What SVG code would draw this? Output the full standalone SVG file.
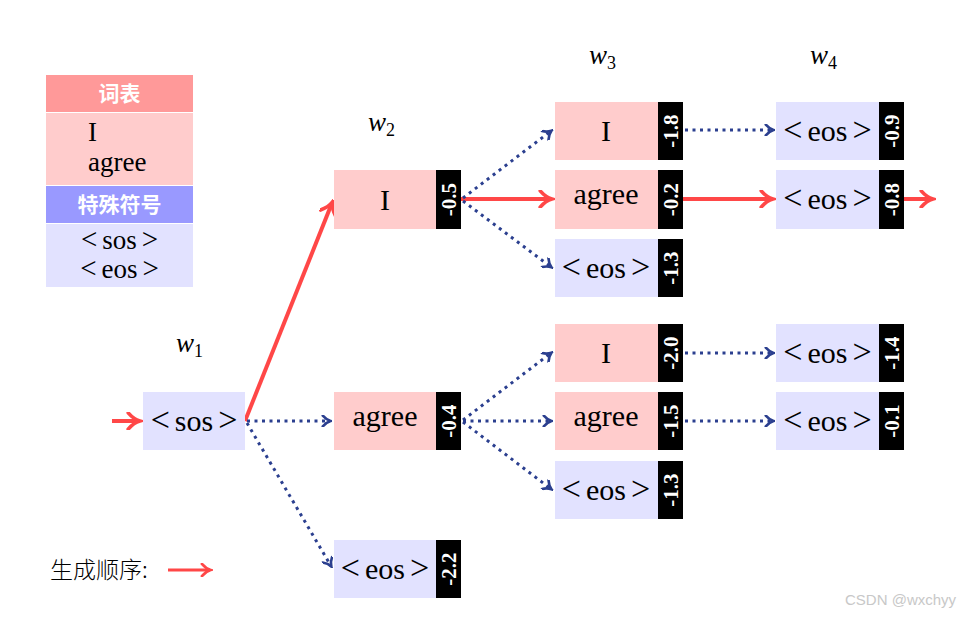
<svg xmlns="http://www.w3.org/2000/svg" width="975" height="617" viewBox="0 0 975 617">
<style>
.t{font-family:"Liberation Serif","Noto Sans CJK SC",serif;font-size:30px;fill:#000;text-anchor:middle}
.lg{font-family:"Liberation Serif","Noto Sans CJK SC",serif;font-size:27px;fill:#000}
.ab{font-size:34px}
.ab2{font-size:29px}
.hd{font-family:"Noto Sans CJK SC",sans-serif;font-size:21px;font-weight:bold;fill:#fff;text-anchor:middle}
.sc{font-family:"Liberation Serif",serif;font-size:21px;font-weight:bold;fill:#fff;text-anchor:middle}
.w{font-family:"Liberation Serif",serif;font-style:italic;font-size:27px;fill:#000}
.ws{font-family:"Liberation Serif",serif;font-size:18px;fill:#000}
.pk{fill:#ffcccc}
.bl{fill:#e2e2ff}
.bk{fill:#000}
.red{stroke:#ff4747;stroke-width:4;fill:none;marker-end:url(#ar)}
.dot{stroke:#2b3f8f;stroke-width:3;stroke-dasharray:3,4.5;fill:none;marker-end:url(#ab)}
</style>
<defs>
<marker id="ar" viewBox="0 0 10 10" refX="8" refY="5" markerWidth="4.5" markerHeight="4.5" orient="auto" markerUnits="strokeWidth">
<path d="M2,0.5 Q5,4 8.5,5 Q5,6 2,9.5" fill="none" stroke="#ff4747" stroke-width="2" stroke-linecap="round"/>
</marker>
<marker id="ab" viewBox="0 0 10 10" refX="8" refY="5" markerWidth="4" markerHeight="4" orient="auto" markerUnits="strokeWidth">
<path d="M2,0.5 Q5,4 8.5,5 Q5,6 2,9.5" fill="none" stroke="#2b3f8f" stroke-width="2.2" stroke-linecap="round"/>
</marker>
</defs>
<rect width="975" height="617" fill="#fff"/>

<g id="legend">
<rect x="46" y="75" width="147" height="37" fill="#ff9999"/>
<text class="hd" x="119.5" y="101">词表</text>
<rect x="46" y="113" width="147" height="72" class="pk"/>
<text class="lg" x="88" y="141">I</text>
<text class="lg" x="88" y="171">agree</text>
<rect x="46" y="186" width="147" height="37" fill="#9999ff"/>
<text class="hd" x="119.5" y="212">特殊符号</text>
<rect x="46" y="224" width="147" height="63" class="bl"/>
<text class="lg" x="119.5" y="249" text-anchor="middle"><tspan class="ab2">&lt;</tspan><tspan dx="5">sos</tspan><tspan class="ab2" dx="5">&gt;</tspan></text>
<text class="lg" x="119.5" y="278" text-anchor="middle"><tspan class="ab2">&lt;</tspan><tspan dx="5">eos</tspan><tspan class="ab2" dx="5">&gt;</tspan></text>
</g>

<g id="labels">
<text x="176" y="352"><tspan class="w">w</tspan><tspan class="ws" dy="5">1</tspan></text>
<text x="368" y="131"><tspan class="w">w</tspan><tspan class="ws" dy="5">2</tspan></text>
<text x="589" y="64"><tspan class="w">w</tspan><tspan class="ws" dy="5">3</tspan></text>
<text x="810" y="64"><tspan class="w">w</tspan><tspan class="ws" dy="5">4</tspan></text>
</g>

<g id="connectors">
<line class="red" x1="112" y1="421" x2="139" y2="421"/>
<line class="red" x1="245" y1="421" x2="332" y2="203"/>
<line class="red" x1="461" y1="199" x2="551" y2="199"/>
<line class="red" x1="683" y1="199" x2="772" y2="199"/>
<line class="red" x1="904" y1="199" x2="932" y2="199"/>
<line class="dot" x1="247" y1="421" x2="330" y2="421"/>
<line class="dot" x1="247" y1="423" x2="331" y2="566"/>
<line class="dot" x1="463" y1="198" x2="551" y2="131"/>
<line class="dot" x1="463" y1="201" x2="551" y2="267"/>
<line class="dot" x1="463" y1="420" x2="551" y2="353"/>
<line class="dot" x1="463" y1="421" x2="551" y2="421"/>
<line class="dot" x1="463" y1="422" x2="551" y2="489"/>
<line class="dot" x1="685" y1="130" x2="773" y2="130"/>
<line class="dot" x1="685" y1="353" x2="773" y2="353"/>
<line class="dot" x1="685" y1="421" x2="773" y2="421"/>
</g>

<g id="n_sos"><rect x="143" y="392" width="102" height="58" class="bl"/><text class="t" x="194" y="431"><tspan class="ab">&lt;</tspan><tspan dx="5">sos</tspan><tspan class="ab" dx="5">&gt;</tspan></text></g>

<g id="n2_I"><rect x="334" y="170" width="102" height="59" class="pk"/><text class="t" x="385" y="210">I</text>
<rect x="436" y="170" width="25" height="59" class="bk"/><text class="sc" transform="translate(456,199.5) rotate(-90)">-0.5</text></g>
<g id="n2_agree"><rect x="334" y="392" width="102" height="58" class="pk"/><text class="t" x="385" y="426">agree</text>
<rect x="436" y="392" width="25" height="58" class="bk"/><text class="sc" transform="translate(456,421) rotate(-90)">-0.4</text></g>
<g id="n2_eos"><rect x="334" y="540" width="102" height="58" class="bl"/><text class="t" x="385" y="579"><tspan class="ab">&lt;</tspan><tspan dx="5">eos</tspan><tspan class="ab" dx="5">&gt;</tspan></text>
<rect x="436" y="540" width="25" height="58" class="bk"/><text class="sc" transform="translate(456,569) rotate(-90)">-2.2</text></g>

<g id="n3_I_a"><rect x="555" y="102" width="103" height="58" class="pk"/><text class="t" x="606" y="141">I</text>
<rect x="658" y="102" width="25" height="58" class="bk"/><text class="sc" transform="translate(678,131) rotate(-90)">-1.8</text></g>
<g id="n3_agree_a"><rect x="555" y="170" width="103" height="59" class="pk"/><text class="t" x="606" y="204">agree</text>
<rect x="658" y="170" width="25" height="59" class="bk"/><text class="sc" transform="translate(678,199.5) rotate(-90)">-0.2</text></g>
<g id="n3_eos_a"><rect x="555" y="239" width="103" height="58" class="bl"/><text class="t" x="606" y="278"><tspan class="ab">&lt;</tspan><tspan dx="5">eos</tspan><tspan class="ab" dx="5">&gt;</tspan></text>
<rect x="658" y="239" width="25" height="58" class="bk"/><text class="sc" transform="translate(678,268) rotate(-90)">-1.3</text></g>
<g id="n3_I_b"><rect x="555" y="324" width="103" height="58" class="pk"/><text class="t" x="606" y="363">I</text>
<rect x="658" y="324" width="25" height="58" class="bk"/><text class="sc" transform="translate(678,353) rotate(-90)">-2.0</text></g>
<g id="n3_agree_b"><rect x="555" y="392" width="103" height="58" class="pk"/><text class="t" x="606" y="426">agree</text>
<rect x="658" y="392" width="25" height="58" class="bk"/><text class="sc" transform="translate(678,421) rotate(-90)">-1.5</text></g>
<g id="n3_eos_b"><rect x="555" y="461" width="103" height="58" class="bl"/><text class="t" x="606" y="500"><tspan class="ab">&lt;</tspan><tspan dx="5">eos</tspan><tspan class="ab" dx="5">&gt;</tspan></text>
<rect x="658" y="461" width="25" height="58" class="bk"/><text class="sc" transform="translate(678,490) rotate(-90)">-1.3</text></g>

<g id="n4_a"><rect x="776" y="102" width="103" height="58" class="bl"/><text class="t" x="827.5" y="141"><tspan class="ab">&lt;</tspan><tspan dx="5">eos</tspan><tspan class="ab" dx="5">&gt;</tspan></text>
<rect x="879" y="102" width="25" height="58" class="bk"/><text class="sc" transform="translate(899,131) rotate(-90)">-0.9</text></g>
<g id="n4_b"><rect x="776" y="170" width="103" height="59" class="bl"/><text class="t" x="827.5" y="209"><tspan class="ab">&lt;</tspan><tspan dx="5">eos</tspan><tspan class="ab" dx="5">&gt;</tspan></text>
<rect x="879" y="170" width="25" height="59" class="bk"/><text class="sc" transform="translate(899,199.5) rotate(-90)">-0.8</text></g>
<g id="n4_c"><rect x="776" y="324" width="103" height="58" class="bl"/><text class="t" x="827.5" y="363"><tspan class="ab">&lt;</tspan><tspan dx="5">eos</tspan><tspan class="ab" dx="5">&gt;</tspan></text>
<rect x="879" y="324" width="25" height="58" class="bk"/><text class="sc" transform="translate(899,353) rotate(-90)">-1.4</text></g>
<g id="n4_d"><rect x="776" y="392" width="103" height="58" class="bl"/><text class="t" x="827.5" y="431"><tspan class="ab">&lt;</tspan><tspan dx="5">eos</tspan><tspan class="ab" dx="5">&gt;</tspan></text>
<rect x="879" y="392" width="25" height="58" class="bk"/><text class="sc" transform="translate(899,421) rotate(-90)">-0.1</text></g>

<g id="order">
<text x="50" y="578" style="font-family:'Noto Sans CJK SC',serif;font-size:23px;font-weight:300">生成顺序:</text>
<line class="red" x1="168" y1="570" x2="210" y2="570" style="stroke-width:3"/>
</g>
<text x="845" y="605" style="font-family:'Liberation Sans',sans-serif;font-size:15px;fill:#c8c8c8">CSDN @wxchyy</text>
</svg>
